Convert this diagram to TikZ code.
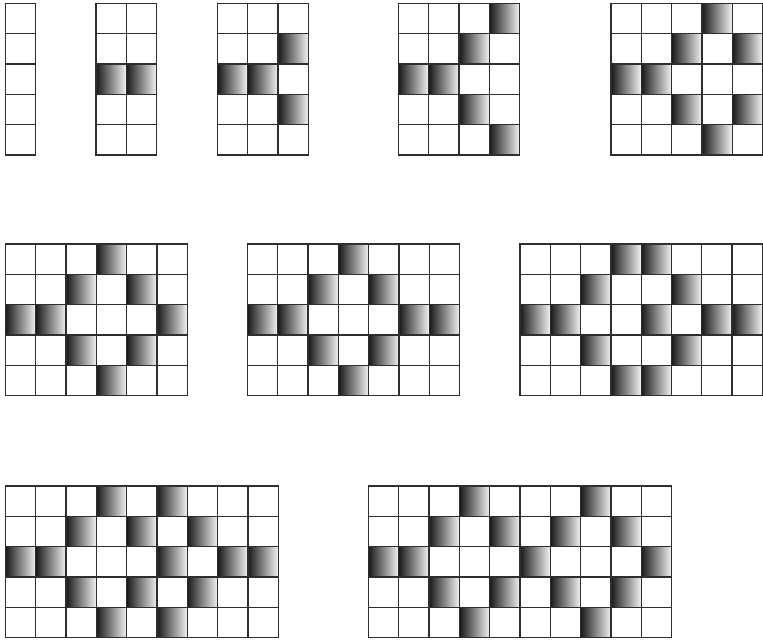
\documentclass[tikz,border=0pt]{standalone}
\usetikzlibrary{positioning}

% one grid of 5 rows and #1 columns, in cell units
\newcommand{\cellgrid}[1]{%
  \foreach \i in {0,...,#1} \draw[gridline] (\i,0) -- (\i,5);
  \foreach \j in {0,...,5} \draw[gridline] (0,\j) -- (#1,\j);}

\begin{document}
\begin{tikzpicture}[
      x=1pt, y=1pt,
      gridline/.style={line width=1.3pt, draw=black!82, line cap=rect},
      cellshade/.style={left color=black!90, right color=black!5},
      cellunit/.style={x=30.3pt, y=-30.3pt} ]

    \useasboundingbox (0,0) rectangle (763,641);

    % first row
    \begin{scope}[shift={(5.5pt,637.5pt)}, cellunit]
      \cellgrid{1}
    \end{scope}
    \begin{scope}[shift={(96pt,637.5pt)}, cellunit]
      \foreach \c/\r in {0/2,1/2} \shade[cellshade] (\c,\r) rectangle ++(1,1);
      \cellgrid{2}
    \end{scope}
    \begin{scope}[shift={(217.5pt,637.5pt)}, cellunit]
      \foreach \c/\r in {2/1,0/2,1/2,2/3} \shade[cellshade] (\c,\r) rectangle ++(1,1);
      \cellgrid{3}
    \end{scope}
    \begin{scope}[shift={(398.5pt,637.5pt)}, cellunit]
      \foreach \c/\r in {3/0,2/1,0/2,1/2,2/3,3/4} \shade[cellshade] (\c,\r) rectangle ++(1,1);
      \cellgrid{4}
    \end{scope}
    \begin{scope}[shift={(611pt,637.5pt)}, cellunit]
      \foreach \c/\r in {3/0,2/1,4/1,0/2,1/2,2/3,4/3,3/4} \shade[cellshade] (\c,\r) rectangle ++(1,1);
      \cellgrid{5}
    \end{scope}

    % second row
    \begin{scope}[shift={(5.5pt,397pt)}, cellunit]
      \foreach \c/\r in {3/0,2/1,4/1,0/2,1/2,5/2,2/3,4/3,3/4} \shade[cellshade] (\c,\r) rectangle ++(1,1);
      \cellgrid{6}
    \end{scope}
    \begin{scope}[shift={(247.5pt,397pt)}, cellunit]
      \foreach \c/\r in {3/0,2/1,4/1,0/2,1/2,5/2,6/2,2/3,4/3,3/4} \shade[cellshade] (\c,\r) rectangle ++(1,1);
      \cellgrid{7}
    \end{scope}
    \begin{scope}[shift={(520pt,397pt)}, cellunit]
      \foreach \c/\r in {3/0,4/0,2/1,5/1,0/2,1/2,4/2,6/2,7/2,2/3,5/3,3/4,4/4} \shade[cellshade] (\c,\r) rectangle ++(1,1);
      \cellgrid{8}
    \end{scope}

    % third row
    \begin{scope}[shift={(5.5pt,155pt)}, cellunit]
      \foreach \c/\r in {3/0,5/0,2/1,4/1,6/1,0/2,1/2,5/2,7/2,8/2,2/3,4/3,6/3,3/4,5/4} \shade[cellshade] (\c,\r) rectangle ++(1,1);
      \cellgrid{9}
    \end{scope}
    \begin{scope}[shift={(368.5pt,155pt)}, cellunit]
      \foreach \c/\r in {3/0,7/0,2/1,4/1,6/1,8/1,0/2,1/2,5/2,9/2,2/3,4/3,6/3,8/3,3/4,7/4} \shade[cellshade] (\c,\r) rectangle ++(1,1);
      \cellgrid{10}
    \end{scope}
  \end{tikzpicture}
\end{document}
